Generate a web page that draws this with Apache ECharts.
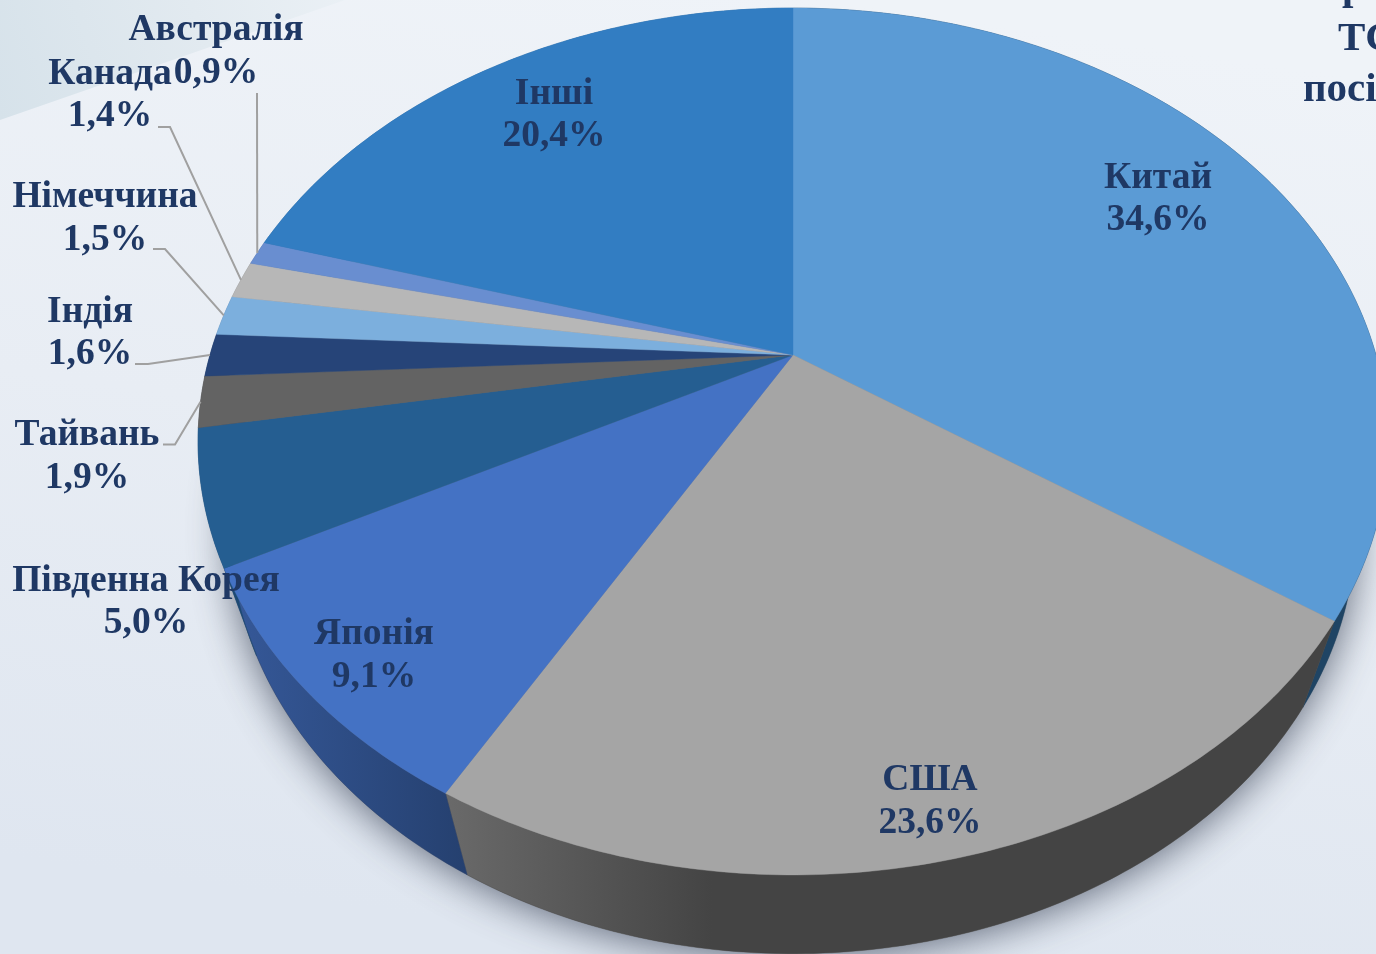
<!DOCTYPE html>
<html><head><meta charset="utf-8">
<style>html,body{margin:0;padding:0;overflow:hidden;background:#e6ecf3}#c{width:1376px;height:954px}</style>
<script src="https://cdn.jsdelivr.net/npm/echarts@6/dist/echarts.min.js"></script>
</head><body><div id="c"></div>
<script>
const categories = ['Китай','США','Японія','Південна Корея','Тайвань','Індія','Німеччина','Канада','Австралія','Інші'];
const shares = [34.6,23.6,9.1,5.0,1.9,1.6,1.5,1.4,0.9,20.4];
const topColors = ['#5b9bd5','#a5a5a5','#4472c4','#255e91','#636363','#264478','#7cafdd','#b7b7b7','#698ed0','#327dc2'];
const wallColors = [
  ['#1f4464','#1f4464'],['#6a6a6a','#444444'],['#36599a','#25406f'],['#1d4a72','#1d4a72'],['#4a4a4a','#4a4a4a'],
  ['#1d3560','#1d3560'],['#5f89ae','#5f89ae'],['#8f8f8f','#8f8f8f'],['#5070a5','#5070a5'],['#26629a','#26629a']];
const labelLayout = [[1158,178,220],[930,780,823],[374,634,677],[146,581,623],[87,435,478],[90,312,354],[105,197,240],[110,74,116],[216,30,73],[554,94,136]];
const leaderStart = {4:[163,444.5,175],5:[135,364,148],6:[153,249,165],7:[158,127,170],8:[257,93,257]};
const cutoffText = [['р',1342,-12],['ТС',1338,39],['посі',1303,90]];

const view = {cx:793, cy:355, A:583, B:416.2, k:0.1995, m:0.055, D:96};
function project(deg, depth){
  const t = deg*Math.PI/180, u = Math.sin(t), v = Math.cos(t);
  const w = 1 + view.k*v + depth*view.m;
  return [view.cx + view.A*u/w, view.cy + (-view.B*v + depth*view.D)/w];
}
const total = shares.reduce((a,b)=>a+b,0);
const starts = []; let acc = 0;
shares.forEach(s=>{starts.push(acc/total*360); acc+=s;});
function arc(a0,a1,depth){
  const n = Math.max(2,Math.ceil((a1-a0)/0.75)), pts=[];
  for(let i=0;i<=n;i++) pts.push(project(a0+(a1-a0)*i/n,depth));
  return pts;
}
const ink = '#1f3864';
const font = 'bold 37.5px "Liberation Serif", serif';

const chart = echarts.init(document.getElementById('c'),null,{renderer:'canvas'});
chart.setOption({
  animation:false,
  backgroundColor:{type:'linear',x:0.6,y:0,x2:0.5,y2:1,colorStops:[{offset:0,color:'#eff3f8'},{offset:0.5,color:'#e8edf4'},{offset:1,color:'#dfe6f0'}]},
  graphic:[{type:'polygon',silent:true,z:-1,shape:{points:[[0,0],[345,0],[0,120]]},
    style:{fill:{type:'linear',x:0,y:1,x2:1,y2:0,colorStops:[{offset:0,color:'#d6e2ea'},{offset:0.6,color:'#e2eaf0'},{offset:1,color:'#eaf0f5'}]}}}],
  series:[
    {type:'custom',coordinateSystem:'none',silent:true,data:[0],
     renderItem(){return {type:'polygon',shape:{points:arc(0,360,1)},
       style:{fill:'#777',shadowBlur:42,shadowColor:'rgba(45,55,75,0.75)',shadowOffsetY:3}};}},
    {type:'custom',coordinateSystem:'none',silent:true,data:shares,
     renderItem(p,api){
       const i=p.dataIndex, a0=starts[i], a1=a0+api.value(0)/total*360;
       const pts=arc(a0,a1,0).concat(arc(a0,a1,1).reverse());
       return {type:'polygon',shape:{points:pts},style:{
         fill:{type:'linear',x:0,y:0,x2:1,y2:0,colorStops:[{offset:0,color:wallColors[i][0]},{offset:i===1?0.3:1,color:wallColors[i][1]},{offset:1,color:wallColors[i][1]}]},
         stroke:wallColors[i][1],lineWidth:0.4}};
     }},
    {type:'custom',coordinateSystem:'none',silent:true,data:shares,
     renderItem(p,api){
       const i=p.dataIndex, a0=starts[i], a1=a0+api.value(0)/total*360;
       const pts=[[view.cx,view.cy]].concat(arc(a0,a1,0));
       return {type:'polygon',shape:{points:pts},style:{fill:topColors[i],stroke:topColors[i],lineWidth:0.4}};
     }},
    {type:'custom',coordinateSystem:'none',silent:true,data:shares,
     renderItem(p,api){
       const i=p.dataIndex, val=api.value(0), l=labelLayout[i], kids=[];
       const txt=val.toFixed(1).replace('.',',')+'%';
       kids.push({type:'text',style:{text:categories[i],x:l[0],y:l[1],align:'center',verticalAlign:'middle',font,fill:ink}});
       kids.push({type:'text',style:{text:txt,x:l[0],y:l[2],align:'center',verticalAlign:'middle',font,fill:ink}});
       const s=leaderStart[i];
       if(s){
         const end=project(starts[i]+val/total*180,0);
         kids.push({type:'polyline',shape:{points:[[s[0],s[1]],[s[2],s[1]],end]},style:{fill:null,stroke:'#a0a0a0',lineWidth:2}});
       }
       return {type:'group',children:kids};
     }},
    {type:'custom',coordinateSystem:'none',silent:true,data:cutoffText.map((_,i)=>i),
     renderItem(p){
       const c=cutoffText[p.dataIndex];
       return {type:'text',style:{text:c[0],x:c[1],y:c[2],align:'left',verticalAlign:'middle',font:'bold 41px "Liberation Serif", serif',fill:ink}};
     }}
  ]
});
</script></body></html>
